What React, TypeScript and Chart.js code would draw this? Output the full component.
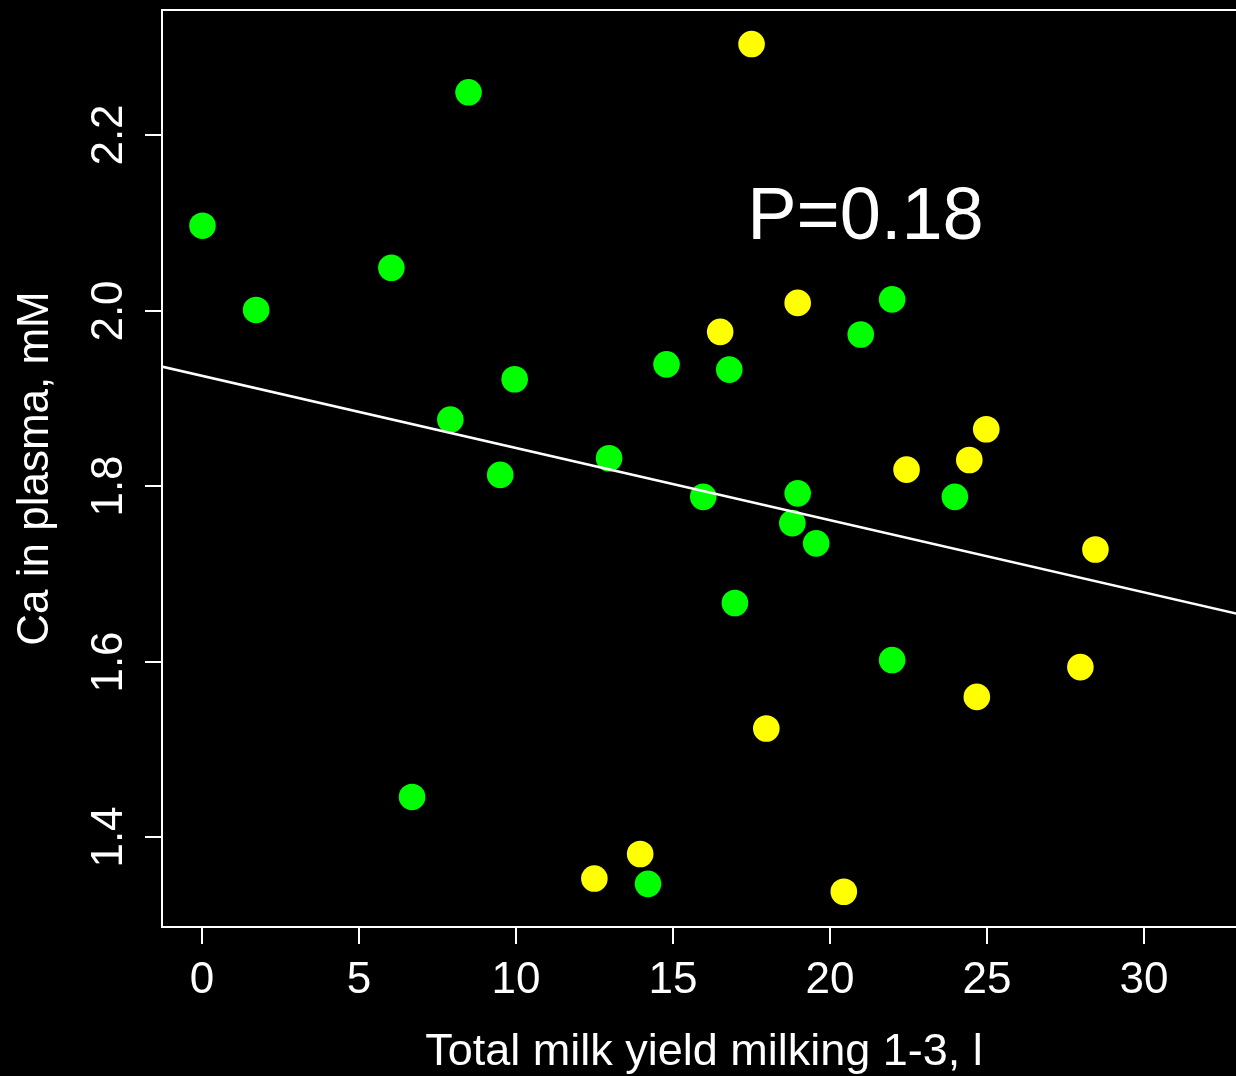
import { useEffect, useRef } from "react";
import { Chart, registerables } from "chart.js";

Chart.register(...registerables);

// Green group
const GREEN_X = [0.0, 1.71, 6.02, 8.48, 7.9, 9.95, 9.49, 6.68, 12.96, 14.79, 14.2, 15.96, 16.79, 16.97, 18.97, 18.8, 19.56, 20.98, 21.98, 21.98, 23.98];
const GREEN_Y = [2.097, 2.001, 2.049, 2.249, 1.876, 1.922, 1.813, 1.446, 1.832, 1.939, 1.347, 1.788, 1.933, 1.667, 1.792, 1.758, 1.735, 1.973, 2.013, 1.602, 1.788];

// Yellow group
const YELLOW_X = [17.5, 16.5, 18.97, 22.44, 24.44, 24.98, 28.46, 27.98, 24.68, 17.97, 13.95, 12.49, 20.44];
const YELLOW_Y = [2.304, 1.976, 2.009, 1.819, 1.83, 1.865, 1.728, 1.594, 1.56, 1.524, 1.381, 1.353, 1.338];

// Regression line (intercept, slope) and its drawn x-range
const LINE_INTERCEPT = 1.9258;
const LINE_SLOPE = -0.008218;
const LINE_X_RANGE = [-2, 35];

// Axis ranges
const X_MIN = -1.29;
const X_MAX = 32.94;
const Y_MIN = 1.2978;
const Y_MAX = 2.3428;

// Ticks
const X_TICKS = [0, 5, 10, 15, 20, 25, 30];
const X_TICK_LABELS = ["0", "5", "10", "15", "20", "25", "30"];
const Y_TICKS = [1.4, 1.6, 1.8, 2.0, 2.2];
const Y_TICK_LABELS = ["1.4", "1.6", "1.8", "2.0", "2.2"];

const X_TITLE = "Total milk yield milking 1-3, l";
const Y_TITLE = "Ca in plasma, mM";
const ANNOTATION = "P=0.18";
const ANNOTATION_X = 21.13;
const ANNOTATION_Y = 2.082;

const FONT = '"Liberation Sans", Arial, Helvetica, sans-serif';

const rAxesPlugin = {
  id: "rAxes",
  beforeDraw(chart: any) {
    const { ctx, width, height } = chart;
    ctx.save();
    ctx.fillStyle = "#000";
    ctx.fillRect(0, 0, width, height);
    ctx.restore();
  },
  afterDatasetsDraw(chart: any) {
    const { ctx, chartArea: a, scales } = chart;
    const xs = scales.x;
    const ys = scales.y;
    ctx.save();
    ctx.strokeStyle = "#fff";
    ctx.fillStyle = "#fff";
    ctx.lineWidth = 2;
    // box: left, top, bottom (right edge lies beyond the image)
    ctx.beginPath();
    ctx.moveTo(a.right + 2, a.top);
    ctx.lineTo(a.left, a.top);
    ctx.lineTo(a.left, a.bottom);
    ctx.lineTo(a.right + 2, a.bottom);
    ctx.stroke();

    const tick = 17;
    ctx.font = `44px ${FONT}`;
    // x ticks
    ctx.textAlign = "center";
    ctx.textBaseline = "alphabetic";
    X_TICKS.forEach((v, i) => {
      const px = Math.round(xs.getPixelForValue(v));
      ctx.beginPath();
      ctx.moveTo(px, a.bottom);
      ctx.lineTo(px, a.bottom + tick);
      ctx.stroke();
      ctx.fillText(X_TICK_LABELS[i], px, a.bottom + 66);
    });
    // y ticks (labels parallel to axis)
    Y_TICKS.forEach((v, i) => {
      const py = Math.round(ys.getPixelForValue(v));
      ctx.beginPath();
      ctx.moveTo(a.left - tick, py);
      ctx.lineTo(a.left, py);
      ctx.stroke();
      ctx.save();
      ctx.translate(a.left - 40, py);
      ctx.rotate(-Math.PI / 2);
      ctx.fillText(Y_TICK_LABELS[i], 0, 0);
      ctx.restore();
    });
    // axis titles
    ctx.save();
    ctx.translate(47.5, (a.top + a.bottom) / 2);
    ctx.rotate(-Math.PI / 2);
    ctx.fillText(Y_TITLE, 0, 0);
    ctx.restore();
    ctx.font = `45px ${FONT}`;
    ctx.fillText(X_TITLE, (a.left + a.right + 10) / 2, a.bottom + 138);
    // annotation
    ctx.font = `74px ${FONT}`;
    ctx.fillText(ANNOTATION, xs.getPixelForValue(ANNOTATION_X), ys.getPixelForValue(ANNOTATION_Y));
    ctx.restore();
  },
};

export default function App() {
  const ref = useRef<HTMLCanvasElement>(null);
  useEffect(() => {
    document.body.style.margin = "0";
    document.body.style.background = "#000";
    const lineData = LINE_X_RANGE.map((x) => ({ x, y: LINE_INTERCEPT + LINE_SLOPE * x }));
    const chart = new Chart(ref.current as HTMLCanvasElement, {
      type: "scatter",
      data: {
        datasets: [
          {
            label: "fit",
            data: lineData,
            showLine: true,
            borderColor: "#ffffff",
            borderWidth: 2.5,
            pointRadius: 0,
            order: 0,
          } as any,
          {
            label: "green",
            data: GREEN_X.map((x, i) => ({ x, y: GREEN_Y[i] })),
            backgroundColor: "#00ff00",
            borderWidth: 0,
            pointRadius: 13.3,
            order: 1,
          },
          {
            label: "yellow",
            data: YELLOW_X.map((x, i) => ({ x, y: YELLOW_Y[i] })),
            backgroundColor: "#ffff00",
            borderWidth: 0,
            pointRadius: 13.3,
            order: 2,
          },
        ],
      },
      options: {
        animation: false,
        responsive: false,
        devicePixelRatio: 1,
        events: [],
        layout: { autoPadding: false, padding: { left: 162, top: 10, right: 0, bottom: 149 } },
        plugins: { legend: { display: false }, tooltip: { enabled: false } },
        scales: {
          x: { type: "linear", display: false, min: X_MIN, max: X_MAX },
          y: { type: "linear", display: false, min: Y_MIN, max: Y_MAX },
        },
      } as any,
      plugins: [rAxesPlugin],
    });
    return () => chart.destroy();
  }, []);
  return (
    <canvas
      ref={ref}
      width={1236}
      height={1076}
      style={{ display: "block", width: 1236, height: 1076 }}
    />
  );
}
